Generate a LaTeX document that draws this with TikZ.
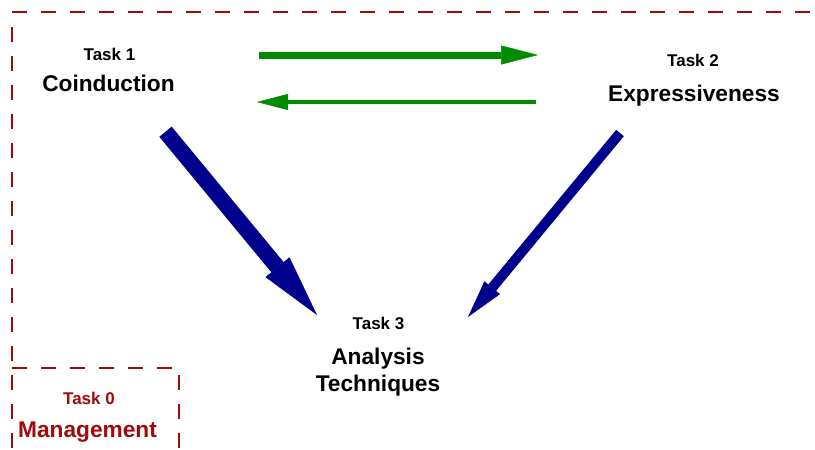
\documentclass[tikz,border=0pt]{standalone}
\usepackage{fontspec}
\setmainfont{Liberation Sans}
\usetikzlibrary{arrows.meta}
\definecolor{framered}{RGB}{160,10,10}
\definecolor{arrgreen}{RGB}{0,140,0}
\definecolor{arrblue}{RGB}{0,0,140}
\begin{document}
\begin{tikzpicture}[x=1pt,y=-1pt,
  tasklabel/.style={anchor=base, inner sep=0pt, font=\fontsize{17}{20}\selectfont\bfseries},
  taskname/.style={anchor=base, inner sep=0pt, font=\fontsize{22.7}{26}\selectfont\bfseries},
  framedash/.style={draw=framered, line width=2pt, dash pattern=on 15pt off 14pt},
  greenarrow/.style={draw=arrgreen, fill=arrgreen},
  bluearrow/.style={draw=arrblue, fill=arrblue}
]
\useasboundingbox (0,0) rectangle (815,450);
% frames
\coordinate (ftl) at (12,12);
\coordinate (ftr) at (820,12);
\coordinate (fls) at (12,27);
\coordinate (flb) at (12,455);
\coordinate (mtl) at (12,368);
\coordinate (mtr) at (179,368);
\coordinate (mrs) at (179,375);
\coordinate (mrb) at (179,455);
\draw[framedash] (ftl) -- (ftr);
\draw[framedash] (fls) -- (flb);
\draw[framedash] (mtl) -- (mtr);
\draw[framedash] (mrs) -- (mrb);
% texts
\node[tasklabel] (t1) at (109.5,60.7) {Task 1};
\node[taskname] (n1) at (108.5,91.7) {Coinduction};
\node[tasklabel] (t2) at (693,66.7) {Task 2};
\node[taskname] (n2) at (694,101.7) {Expressiveness};
\node[tasklabel] (t3) at (378.5,329) {Task 3};
\node[taskname] (n3a) at (378,364.3) {Analysis};
\node[taskname] (n3b) at (378,391.7) {Techniques};
\node[tasklabel, text=framered] (t0) at (89,404.3) {Task 0};
\node[taskname, text=framered] (n0) at (87.5,437.3) {Management};
% arrow end points
\coordinate (g1s) at (259,55);
\coordinate (g1e) at (538,55);
\coordinate (g2s) at (536,102);
\coordinate (g2e) at (257,102);
\coordinate (b1s) at (165.5,131.7);
\coordinate (b1e) at (317,315);
\coordinate (b2s) at (620,133);
\coordinate (b2e) at (468,317);
\draw[greenarrow, line width=7pt, -{Triangle[length=37pt,width=19pt,line width=0.5pt]}] (g1s) -- (g1e);
\draw[greenarrow, line width=4pt, -{Triangle[length=31pt,width=16pt,line width=0.5pt]}] (g2s) -- (g2e);
\draw[bluearrow, line width=16pt, -{Triangle[length=62pt,width=31pt,line width=0.5pt]}] (b1s) -- (b1e);
\draw[bluearrow, line width=10pt, -{Triangle[length=38pt,width=20pt,line width=0.5pt]}] (b2s) -- (b2e);
\end{tikzpicture}
\end{document}
